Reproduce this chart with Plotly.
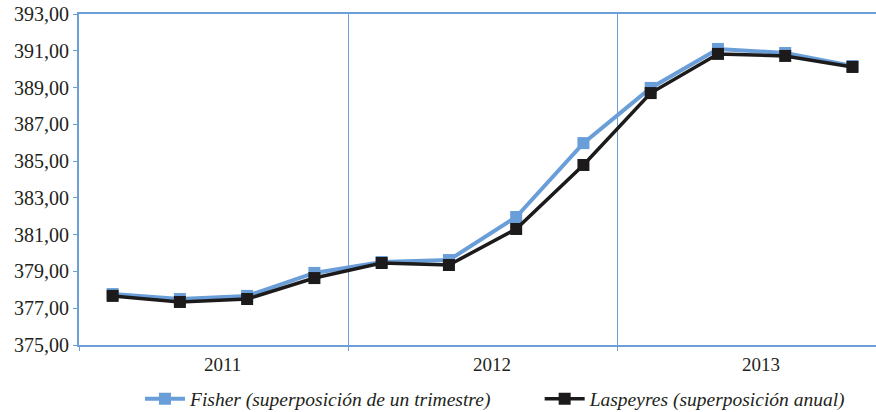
import plotly.graph_objects as go

# quarterly index, 2011 Q1 .. 2013 Q4
years = ["2011", "2012", "2013"]
quarters = ["T1", "T2", "T3", "T4"]
fisher = [377.77, 377.50, 377.67, 378.92, 379.51, 379.62,
          381.96, 385.98, 388.98, 391.10, 390.88, 390.17]
laspeyres = [377.67, 377.34, 377.50, 378.64, 379.46, 379.35,
             381.31, 384.79, 388.70, 390.83, 390.72, 390.12]

name_fisher = "Fisher (superposición de un trimestre)"
name_laspeyres = "Laspeyres (superposición anual)"

axis_blue = "#6d9fd7"
line_blue = "#6a9ed8"
font_family = "Liberation Serif"
text_col = "#231f20"

x = list(range(len(fisher)))

fig = go.Figure()
fig.add_trace(go.Scatter(
    x=x, y=fisher, name=name_fisher, mode="lines+markers",
    line=dict(color=line_blue, width=4),
    marker=dict(symbol="square", size=12, color=line_blue),
    legend="legend",
))
fig.add_trace(go.Scatter(
    x=x, y=laspeyres, name=name_laspeyres, mode="lines+markers",
    line=dict(color="#1c1a1a", width=3.5),
    marker=dict(symbol="square", size=12, color="#1c1a1a"),
    legend="legend2",
))

# year labels under the axis, centred on each group of quarters
n_q = len(quarters)
for i, yr in enumerate(years):
    fig.add_annotation(
        x=i * n_q + (n_q - 1) / 2, y=-0.06, xref="x", yref="paper",
        text=yr, showarrow=False, xshift=9, yanchor="middle",
        font=dict(family=font_family, size=19, color=text_col),
    )

# year boundaries
bounds = [i * n_q - 0.5 for i in range(len(years) + 1)]

leg_font = dict(family=font_family, size=19.5, style="italic", color=text_col)

fig.update_layout(
    width=876, height=412,
    margin=dict(l=79, r=0, t=14, b=67, autoexpand=False),
    plot_bgcolor="white", paper_bgcolor="white",
    separators=", ",
    font=dict(family=font_family, size=18, color=text_col),
    showlegend=True,
    legend=dict(
        orientation="h", x=0.0765, xanchor="left", y=-0.163, yanchor="middle",
        font=leg_font, bgcolor="rgba(0,0,0,0)", itemwidth=40,
    ),
    legend2=dict(
        orientation="h", x=0.578, xanchor="left", y=-0.163, yanchor="middle",
        font=leg_font, bgcolor="rgba(0,0,0,0)", itemwidth=40,
    ),
    xaxis=dict(
        range=[-0.5, 11.35],
        tickvals=bounds, showticklabels=False,
        ticks="outside", ticklen=4, tickcolor=axis_blue,
        showgrid=True, gridcolor=axis_blue, gridwidth=1,
        showline=True, linecolor=axis_blue, linewidth=2, mirror=True,
        zeroline=False,
    ),
    yaxis=dict(
        range=[375, 393], dtick=2, tick0=375, tickformat=".2f",
        ticks="outside", ticklen=4, tickcolor=axis_blue,
        showgrid=False, zeroline=False,
        showline=True, linecolor=axis_blue, linewidth=2,
        tickfont=dict(family=font_family, size=20, color=text_col),
    ),
)

# drop the default 8px body margin so the figure fills the window
fig.write_html("out.html", config={"displayModeBar": False},
               post_script="document.body.style.margin='0';")
